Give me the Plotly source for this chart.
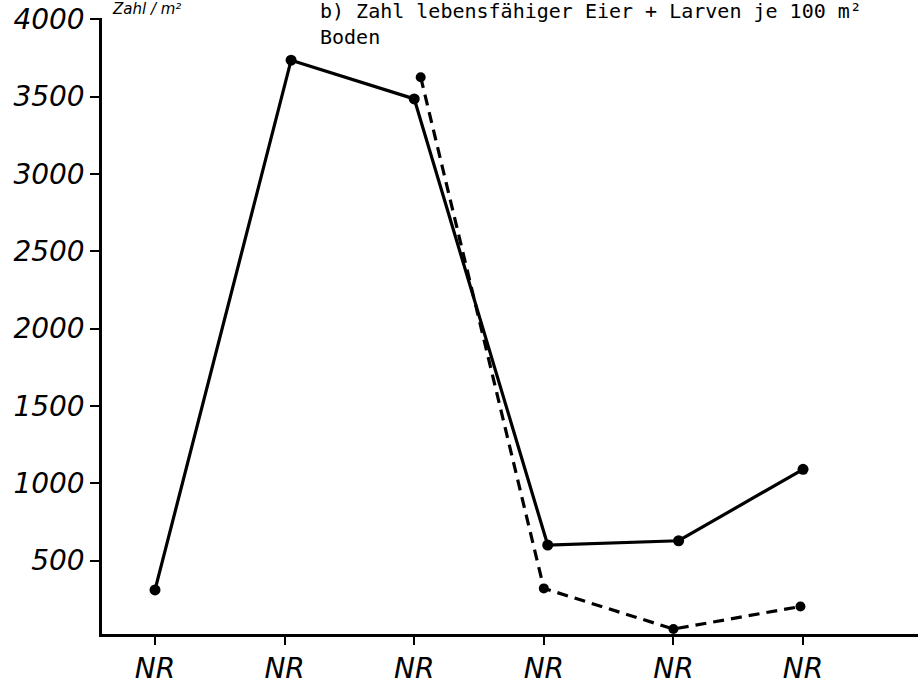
import plotly.graph_objects as go

# categories (x positions are the 6 sampling stations, all labelled "NR")
tick_pos = [0, 1, 2, 3, 4, 5]
tick_labels = ["NR", "NR", "NR", "NR", "NR", "NR"]

# solid series
solid_x = [0, 1.05, 2.0, 3.03, 4.04, 5.0]
solid_y = [310, 3735, 3485, 600, 628, 1090]

# dashed series
dashed_x = [2.05, 3.0, 4.0, 4.98]
dashed_y = [3625, 320, 57, 203]

y_ticks = [500, 1000, 1500, 2000, 2500, 3000, 3500, 4000]

title_line1 = "b) Zahl lebensfähiger Eier + Larven je 100 m²"
title_line2 = "Boden"
y_title = "Zahl / m²"

fig = go.Figure()
fig.add_trace(go.Scatter(
    x=solid_x, y=solid_y, mode="lines+markers",
    line=dict(color="black", width=3.2),
    marker=dict(color="black", size=11),
    showlegend=False, cliponaxis=False,
))
fig.add_trace(go.Scatter(
    x=dashed_x, y=dashed_y, mode="lines+markers",
    line=dict(color="black", width=3.2, dash="11px,7px"),
    marker=dict(color="black", size=10),
    showlegend=False, cliponaxis=False,
))

tick_font = dict(family="DejaVu Sans", size=28, color="black", style="italic")

top = 18
bottom = 642
ph = bottom - top

fig.update_layout(
    width=918, height=685,
    margin=dict(l=102, r=0, t=top, b=685 - bottom),
    paper_bgcolor="white", plot_bgcolor="white",
    xaxis=dict(
        range=[-0.409, 5.887],
        tickmode="array", tickvals=tick_pos, ticktext=tick_labels,
        showgrid=False, zeroline=False,
        showline=True, linecolor="black", linewidth=2.5,
        ticks="outside", ticklen=8, tickwidth=2, tickcolor="black",
        tickfont=tick_font,
    ),
    yaxis=dict(
        range=[25, 4008],
        tickmode="array", tickvals=y_ticks,
        showgrid=False, zeroline=False,
        showline=True, linecolor="black", linewidth=2.5,
        ticks="outside", ticklen=9, tickwidth=2, tickcolor="black",
        tickfont=tick_font,
    ),
    annotations=[
        dict(text=title_line1, xref="paper", yref="paper",
             x=(318 - 102) / 816, y=(bottom - 11) / ph,
             xanchor="left", yanchor="middle", showarrow=False,
             font=dict(family="DejaVu Sans Mono", size=20, color="black")),
        dict(text=title_line2, xref="paper", yref="paper",
             x=(318 - 102) / 816, y=(bottom - 37) / ph,
             xanchor="left", yanchor="middle", showarrow=False,
             font=dict(family="DejaVu Sans Mono", size=20, color="black")),
        dict(text=y_title, xref="paper", yref="paper",
             x=(110 - 102) / 816, y=(bottom - 9) / ph,
             xanchor="left", yanchor="middle", showarrow=False,
             font=dict(family="DejaVu Sans", size=15, color="black", style="italic")),
    ],
)

fig.write_html("out.html")
